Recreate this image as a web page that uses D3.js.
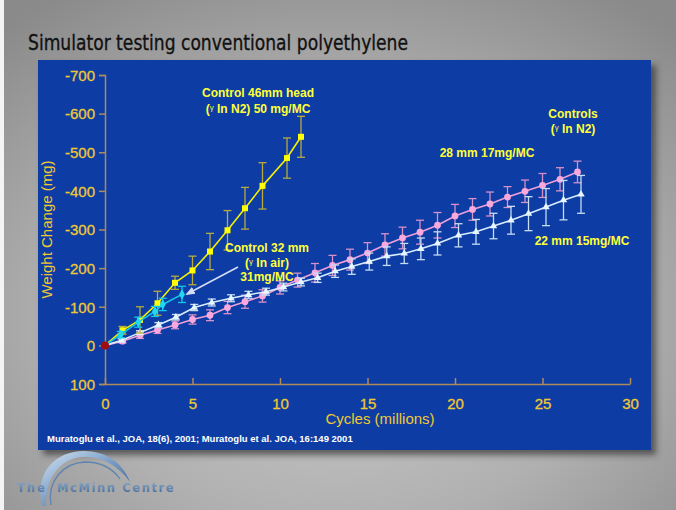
<!DOCTYPE html>
<html>
<head>
<meta charset="utf-8">
<script src="https://cdn.jsdelivr.net/npm/d3@7"></script>
<style>
  html, body { margin: 0; padding: 0; background: #fff; }
  svg { display: block; }
</style>
</head>
<body>
<svg id="chart" width="676" height="510"></svg>
<script>
// Weight change of conventional polyethylene cups in a hip simulator
const cyclesHead46 = [0, 1, 2, 3, 4, 5, 6, 7, 8, 9, 10.4, 11.2];
const weightHead46 = [0, -39, -66, -109, -162, -194, -243, -298, -355, -413, -485, -540];
const errHead46    = [0, 10, 34, 31, 17, 37, 47, 51, 54, 60, 52, 53];

const cyclesHead32 = [0, 0.9, 1.9, 2.85, 3.3, 4.4];
const weightHead32 = [0, -28, -60, -88, -106, -132];
const errHead32    = [0, 8, 13, 13, 16, 21];

const cyclesHead28 = [0, 1, 2, 3, 4, 5, 6, 7, 8, 9, 10, 11, 12, 13, 14, 15, 16, 17, 18, 19, 20, 21, 22, 23, 24, 25, 26, 27];
const weightHead28 = [0, -11, -26, -40, -53, -67, -78, -98, -113, -128, -150, -169, -188, -207, -222, -239, -260, -278, -293, -311, -335, -352, -366, -384, -399, -414, -430, -449];
const errHead28    = [0, 5, 8, 9, 10, 12, 14, 16, 17, 16, 17, 18, 24, 26, 27, 27, 29, 28, 31, 33, 30, 28, 31, 27, 29, 31, 30, 28];

const cyclesHead22 = [0, 0.95, 2.0, 3.05, 4.05, 5.1, 6.1, 7.2, 8.2, 9.2, 10.2, 11.2, 12.15, 13.15, 14.1, 15.1, 16.1, 17.1, 18.05, 19.0, 20.2, 21.2, 22.2, 23.2, 24.2, 25.2, 26.2, 27.2];
const weightHead22 = [0, -13, -33, -53, -73, -98, -111, -122, -131, -139, -151, -164, -175, -192, -204, -217, -231, -238, -250, -264, -285, -294, -309, -324, -341, -358, -376, -391];
const errHead22    = [0, 4, 5, 6, 7, 8, 9, 9, 9, 9, 10, 10, 12, 16, 20, 22, 24, 26, 28, 30, 30, 32, 33, 36, 44, 48, 51, 49];

const xTicks = [0, 5, 10, 15, 20, 25, 30];
const yTicks = [-700, -600, -500, -400, -300, -200, -100, 0, 100];

const svg = d3.select("#chart");
const W = 676, H = 510;
const defs = svg.append("defs");

// slide background
const bg = defs.append("radialGradient").attr("id", "bgGrad")
  .attr("cx", "0.5").attr("cy", "0.62").attr("r", "0.75");
bg.append("stop").attr("offset", "0").attr("stop-color", "#cdcdcd");
bg.append("stop").attr("offset", "0.55").attr("stop-color", "#b0b0b0");
bg.append("stop").attr("offset", "1").attr("stop-color", "#8a8a8a");
svg.append("rect").attr("width", W).attr("height", H).attr("fill", "url(#bgGrad)");
svg.append("rect").attr("x", 0).attr("y", 0).attr("width", 4).attr("height", H).attr("fill", "#f4f4f4");

const shadow = defs.append("filter").attr("id", "shadow")
  .attr("x", "-5%").attr("y", "-5%").attr("width", "115%").attr("height", "115%");
shadow.append("feDropShadow").attr("dx", 5).attr("dy", 5).attr("stdDeviation", 3)
  .attr("flood-color", "#333").attr("flood-opacity", 0.7);

// title
svg.append("text")
  .attr("x", 28).attr("y", 50)
  .attr("font-family", "'Liberation Sans Narrow', 'DejaVu Sans Condensed', sans-serif")
  .attr("font-stretch", "condensed")
  .attr("font-size", 21)
  .attr("fill", "#111")
  .attr("stroke", "#111").attr("stroke-width", 0.3)
  .attr("textLength", 380).attr("lengthAdjust", "spacingAndGlyphs")
  .text("Simulator testing conventional polyethylene");

// chart panel
svg.append("rect")
  .attr("x", 38).attr("y", 60).attr("width", 613).attr("height", 390)
  .attr("fill", "#083ea4")
  .attr("filter", "url(#shadow)");

const x = d3.scaleLinear().domain([0, 30]).range([105, 630]);
const y = d3.scaleLinear().domain([-700, 100]).range([75, 384]);

const axisColor = "#b08a5a";
const labelColor = "#f0c832";
const font = "'Liberation Sans', Arial, sans-serif";

// y axis
const yAxis = svg.append("g").attr("transform", `translate(${x(0)},0)`)
  .call(d3.axisLeft(y).tickValues(yTicks).tickSize(6).tickPadding(4).tickFormat(d => String(d)));
// x axis along the bottom of the plot
const xAxis = svg.append("g").attr("transform", `translate(0,${y(100)})`)
  .call(d3.axisBottom(x).tickValues(xTicks).tickSizeInner(-6).tickSizeOuter(0).tickPadding(14).tickFormat(d => String(d)));

[yAxis, xAxis].forEach(g => {
  g.selectAll("path.domain").attr("stroke", axisColor).attr("stroke-width", 1.5);
  g.selectAll(".tick line").attr("stroke", axisColor).attr("stroke-width", 1.5);
  g.selectAll(".tick text").attr("fill", labelColor)
    .attr("font-family", font).attr("font-size", 15)
    .attr("stroke", labelColor).attr("stroke-width", 0.3);
});
yAxis.selectAll(".tick text").attr("dy", "0.35em");

svg.append("text")
  .attr("transform", `translate(52,${y(-300)}) rotate(-90)`)
  .attr("text-anchor", "middle")
  .attr("font-family", font).attr("font-size", 15).attr("fill", labelColor)
  .text("Weight Change (mg)");
svg.append("text")
  .attr("x", 380).attr("y", 424).attr("text-anchor", "middle")
  .attr("font-family", font).attr("font-size", 15).attr("fill", labelColor)
  .text("Cycles (millions)");

// citation
svg.append("text")
  .attr("x", 47).attr("y", 442)
  .attr("font-family", font).attr("font-size", 9.5).attr("font-weight", "bold")
  .attr("fill", "#ffffff")
  .text("Muratoglu et al., JOA, 18(6), 2001; Muratoglu et al. JOA, 16:149 2001");

// series
function drawSeries(cycles, weight, err, opts) {
  const pts = cycles.map((c, i) => ({ c, w: weight[i], e: err[i] }));
  const g = svg.append("g");
  const cap = opts.cap;
  pts.filter(p => p.e > 0).forEach(p => {
    const px = x(p.c), top = y(p.w - p.e), bot = y(p.w + p.e);
    g.append("line").attr("x1", px).attr("x2", px).attr("y1", top).attr("y2", bot)
      .attr("stroke", opts.err).attr("stroke-width", 1.3);
    g.append("line").attr("x1", px - cap).attr("x2", px + cap).attr("y1", top).attr("y2", top)
      .attr("stroke", opts.err).attr("stroke-width", 1.3);
    g.append("line").attr("x1", px - cap).attr("x2", px + cap).attr("y1", bot).attr("y2", bot)
      .attr("stroke", opts.err).attr("stroke-width", 1.3);
  });
  g.append("path").datum(pts)
    .attr("d", d3.line().x(p => x(p.c)).y(p => y(p.w)))
    .attr("fill", "none").attr("stroke", opts.line).attr("stroke-width", 1.6);
  g.selectAll("path.mk").data(pts.slice(1)).join("path")
    .attr("class", "mk")
    .attr("transform", p => `translate(${x(p.c)},${y(p.w)})`)
    .attr("d", d3.symbol().type(opts.symbol).size(opts.size))
    .attr("fill", opts.marker);
}

drawSeries(cyclesHead28, weightHead28, errHead28,
  { line: "#f0a0d8", err: "#d890c8", marker: "#f8a8dc", symbol: d3.symbolCircle, size: 36, cap: 4 });
drawSeries(cyclesHead22, weightHead22, errHead22,
  { line: "#d8ecff", err: "#c4dcf4", marker: "#e8f6ff", symbol: d3.symbolTriangle, size: 24, cap: 4 });
drawSeries(cyclesHead46, weightHead46, errHead46,
  { line: "#f4f000", err: "#b8aa3c", marker: "#ffff00", symbol: d3.symbolSquare, size: 36, cap: 4 });
drawSeries(cyclesHead32, weightHead32, errHead32,
  { line: "#10c8e8", err: "#10c8e8", marker: "#20d8f0", symbol: d3.symbolDiamond, size: 30, cap: 4 });

// common origin
svg.append("circle").attr("cx", x(0)).attr("cy", y(0)).attr("r", 4).attr("fill", "#a00c10");

// annotations
const noteColor = "#ffff3a";
function note(lines, cx, y0, dy) {
  const t = svg.append("text").attr("text-anchor", "middle")
    .attr("font-family", font).attr("font-size", 12).attr("font-weight", "bold")
    .attr("fill", noteColor);
  lines.forEach((ln, i) => {
    const row = t.append("tspan").attr("x", cx).attr("y", y0 + i * dy);
    ln.forEach(part => {
      if (part === "γ") {
        row.append("tspan").attr("font-size", 8).attr("font-weight", "normal")
          .attr("dy", -3).text("γ");
        row.append("tspan").attr("dy", 3).text(" ");
      } else {
        row.append("tspan").text(part);
      }
    });
  });
}
note([["Control 46mm head"], ["(", "γ", "In N2) 50 mg/MC"]], 258, 97, 16);
note([["Control 32 mm"], ["(", "γ", "In air)"], ["31mg/MC"]], 267, 252, 14.5);
note([["Controls"], ["(", "γ", "In N2)"]], 573, 118, 15);
note([["28 mm 17mg/MC"]], 487, 157, 0);
note([["22 mm 15mg/MC"]], 582, 245, 0);

// pointer to the 32 mm series
defs.append("marker").attr("id", "arrowHead")
  .attr("viewBox", "0 0 10 10").attr("refX", 8).attr("refY", 5)
  .attr("markerWidth", 6).attr("markerHeight", 6).attr("orient", "auto")
  .append("path").attr("d", "M0,1 L10,5 L0,9 Z").attr("fill", "#d6dcf4");
svg.append("line")
  .attr("x1", 238).attr("y1", 267).attr("x2", 187).attr("y2", 294)
  .attr("stroke", "#d6dcf4").attr("stroke-width", 1.6)
  .attr("marker-end", "url(#arrowHead)");

// centre logo
const logoGrad = defs.append("linearGradient").attr("id", "logoGrad")
  .attr("x1", "0").attr("y1", "0").attr("x2", "1").attr("y2", "1");
logoGrad.append("stop").attr("offset", "0").attr("stop-color", "#d4e4f4");
logoGrad.append("stop").attr("offset", "0.5").attr("stop-color", "#7a9cc4");
logoGrad.append("stop").attr("offset", "1").attr("stop-color", "#2e5284");
const textGrad = defs.append("linearGradient").attr("id", "logoText")
  .attr("x1", "0").attr("y1", "0").attr("x2", "0").attr("y2", "1");
textGrad.append("stop").attr("offset", "0").attr("stop-color", "#8eaacb");
textGrad.append("stop").attr("offset", "1").attr("stop-color", "#3f6492");
const logo = svg.append("g");
logo.append("path")
  .attr("d", "M42,506 C34,472 56,451 84,451 C106,451 123,463 130,482 C119,467 104,457 85,457 C63,457 45,475 46,506 Z")
  .attr("fill", "url(#logoGrad)");
logo.append("path")
  .attr("d", "M51,505 C47,482 62,463 85,462 C101,462 113,469 120,479")
  .attr("fill", "none").attr("stroke", "#5f84b2").attr("stroke-width", 1.3);
logo.append("text")
  .attr("x", 17).attr("y", 492)
  .attr("font-family", "'DejaVu Sans', sans-serif").attr("font-size", 11.5)
  .attr("font-weight", "bold").attr("letter-spacing", 2)
  .attr("fill", "url(#logoText)")
  .text("The");
logo.append("text")
  .attr("x", 57).attr("y", 492)
  .attr("font-family", "'DejaVu Sans', sans-serif").attr("font-size", 11.5)
  .attr("font-weight", "bold").attr("letter-spacing", 1.6)
  .attr("fill", "url(#logoText)")
  .text("McMinn Centre");
</script>
</body>
</html>
